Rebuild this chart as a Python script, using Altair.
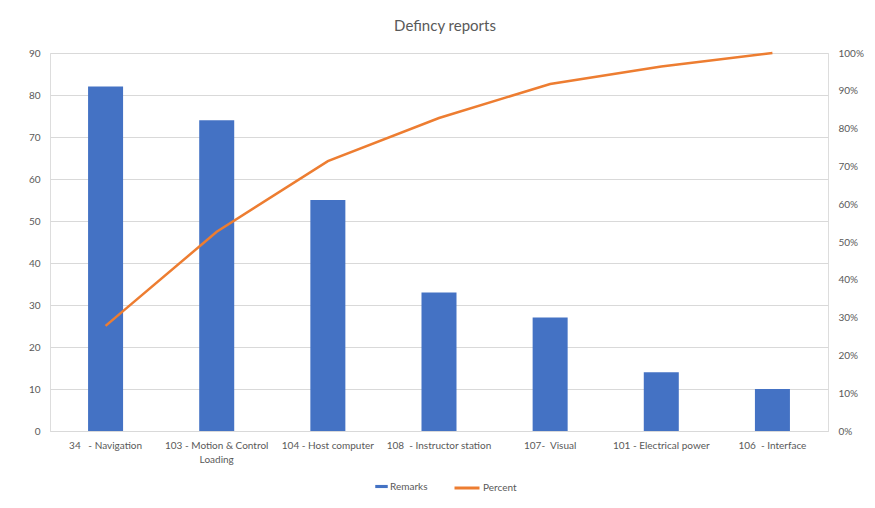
import altair as alt
import pandas as pd

categories = [
    "34\u00a0\u00a0 - Navigation",
    "103 - Motion & Control|Loading",
    "104 - Host computer",
    "108\u00a0 - Instructor station",
    "107-\u00a0 Visual",
    "101 - Electrical power",
    "106\u00a0 - Interface",
]
remarks = [82, 74, 55, 33, 27, 14, 10]
percent = [0.278, 0.527, 0.714, 0.828, 0.918, 0.964, 1.0]

df = pd.DataFrame({
    "category": categories,
    "remarks": remarks,
    "percent": percent,
    "s1": ["Remarks"] * len(categories),
    "s2": ["Percent"] * len(categories),
})

font = "Lato"
gray = "#595959"
grid = "#d9d9d9"
blue = "#4472C4"
orange = "#ED7D31"

x = alt.X(
    "category:N", sort=categories, title=None,
    scale=alt.Scale(paddingInner=0.685, paddingOuter=0.3425),
    axis=alt.Axis(labelAngle=0, labelExpr="split(datum.label, '|')", ticks=False,
                  domainColor=grid, labelColor=gray, labelFontSize=10, labelPadding=9,
                  labelFont=font, labelLineHeight=14, labelOverlap=False),
)

bars = alt.Chart(df).mark_bar().encode(
    x=x,
    y=alt.Y("remarks:Q", title=None,
            scale=alt.Scale(domain=[0, 90], nice=False),
            axis=alt.Axis(orient="left", values=list(range(0, 91, 10)), grid=True,
                          gridColor=grid, domain=False, ticks=False, labelPadding=10,
                          labelColor=gray, labelFontSize=10, labelFont=font)),
    fill=alt.Fill("s1:N", scale=alt.Scale(domain=["Remarks"], range=[blue]),
                  legend=alt.Legend(title=None, orient="none", legendX=325, legendY=427,
                                    symbolType="M-1,-0.25H1V0.25H-1Z", symbolSize=156,
                                    symbolStrokeWidth=0, labelColor=gray, labelFontSize=10,
                                    labelFont=font, labelOffset=2)),
)

line = alt.Chart(df).mark_line(strokeWidth=2.5).encode(
    x=x,
    y=alt.Y("percent:Q", title=None,
            scale=alt.Scale(domain=[0, 1], nice=False),
            axis=alt.Axis(orient="right", format="%", values=[i / 10 for i in range(11)],
                          grid=False, domain=False, ticks=False, labelPadding=10,
                          labelColor=gray, labelFontSize=10, labelFont=font)),
    stroke=alt.Stroke("s2:N", scale=alt.Scale(domain=["Percent"], range=[orange]),
                      legend=alt.Legend(title=None, orient="none", legendX=403, legendY=421,
                                        symbolType="stroke", symbolSize=625,
                                        symbolStrokeWidth=3, labelColor=gray,
                                        labelFontSize=10, labelFont=font, labelOffset=2)),
)

chart = alt.layer(bars, line).resolve_scale(y="independent", fill="independent", stroke="independent").properties(
    width=778, height=378,
    title=alt.TitleParams("Defincy reports", fontSize=15, color=gray, font=font,
                          fontWeight="normal", anchor="middle", offset=14, dx=6),
    autosize=alt.AutoSizeParams(type="none"),
    padding={"left": 42, "top": 45, "right": 39, "bottom": 69},
).configure_view(stroke=None).configure(background="white")

chart.save("out.html", embed_options={"renderer": "svg", "actions": False})
